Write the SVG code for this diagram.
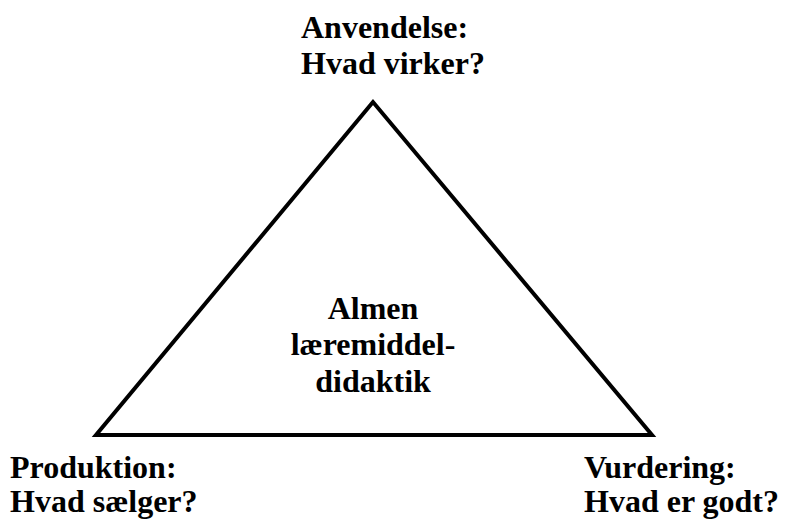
<svg xmlns="http://www.w3.org/2000/svg" width="798" height="520" viewBox="0 0 798 520">
<style>
.t{font-family:"Liberation Serif","Times New Roman",serif;font-weight:bold;font-size:32px;fill:#000}
.c{text-anchor:middle}
</style>
<rect width="798" height="520" fill="#fff"/>
<g id="connectors">
<polygon points="373,102 96,435 652,435" fill="none" stroke="#000" stroke-width="4" stroke-linejoin="miter"/>
</g>
<g id="node-anvendelse">
<text class="t" x="301" y="38">Anvendelse:</text>
<text class="t" x="301" y="74">Hvad virker?</text>
</g>
<g id="node-center">
<text class="t c" x="373" y="319">Almen</text>
<text class="t c" x="373" y="355">læremiddel-</text>
<text class="t c" x="373" y="392">didaktik</text>
</g>
<g id="node-produktion">
<text class="t" x="10" y="478">Produktion:</text>
<text class="t" x="10" y="512">Hvad sælger?</text>
</g>
<g id="node-vurdering">
<text class="t" x="584" y="478">Vurdering:</text>
<text class="t" x="584" y="512">Hvad er godt?</text>
</g>
</svg>
